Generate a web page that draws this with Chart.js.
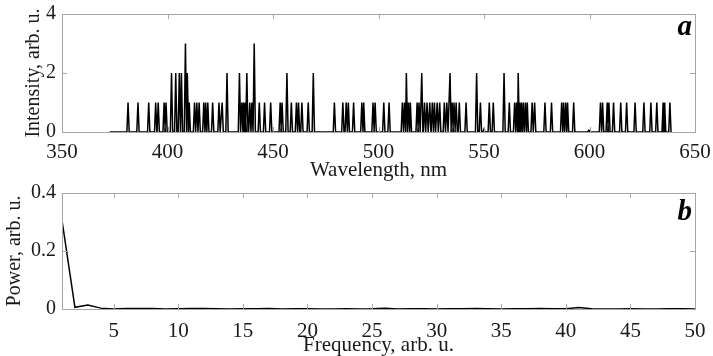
<!DOCTYPE html>
<html>
<head>
<meta charset="utf-8">
<script src="https://cdn.jsdelivr.net/npm/chart.js@4"></script>
<style>
  html, body { margin: 0; padding: 0; background: #fff; }
  #wrap { position: relative; width: 713px; height: 356px; overflow: hidden; }
  #cA { position: absolute; left: 0; top: 0; }
  #cB { position: absolute; left: 0; top: 182px; }
</style>
</head>
<body>
<div id="wrap">
  <canvas id="cA" width="713" height="182"></canvas>
  <canvas id="cB" width="713" height="174"></canvas>
</div>
<script>
// panel a: spectral lines (nm) and their intensity
const lineNm = [
  381.3, 386.0, 391.1, 394.4, 395.6, 398.4, 399.3, 401.9, 403.9, 405.6, 406.6, 408.5, 409.4, 410.3,
  412.8, 413.9, 415.0, 417.2, 418.1, 419.1, 421.4, 424.4, 425.9, 428.2, 434.1, 435.2, 436.0, 436.8,
  437.6, 439.0, 440.0, 441.1, 443.5, 446.0, 448.9, 453.4, 454.3, 456.6, 458.7, 461.1, 462.1, 463.7,
  466.7, 469.1, 479.1, 483.1, 484.7, 485.7, 488.2, 492.1, 493.0, 497.4, 498.4, 502.5, 505.0, 511.3,
  512.3, 513.2, 514.2, 515.1, 518.3, 519.2, 520.5, 521.8, 523.0, 524.3, 525.5, 526.5, 527.8, 529.0,
  531.2, 532.4, 533.9, 534.9, 535.8, 536.8, 538.3, 541.5, 546.5, 548.3, 550.0, 552.5, 554.4, 559.5,
  562.0, 564.5, 565.4, 566.2, 566.9, 567.7, 568.6, 569.6, 570.5, 572.8, 574.0, 578.9, 582.0, 586.8,
  587.7, 588.7, 589.6, 592.5, 599.7, 605.2, 606.2, 608.4, 609.2, 611.4, 614.8, 617.6, 621.6, 625.8,
  629.1, 631.9, 634.9, 635.6, 638.1
];
const lineInt = [
  1, 1, 1, 1, 1, 1, 1, 2, 2, 2, 2, 3, 2, 1,
  1, 1, 1, 1, 1, 1, 1, 1, 1, 2, 2, 1, 1, 1,
  2, 1, 1, 3, 1, 1, 1, 1, 1, 2, 1, 1, 1, 1,
  1, 2, 1, 1, 1, 1, 1, 1, 1, 1, 1, 1, 1, 1,
  1, 2, 1, 1, 1, 1, 2, 1, 1, 1, 1, 1, 1, 1,
  1, 1, 2, 1, 1, 1, 1, 1, 2, 1, 0.1, 1, 1, 2,
  1, 1, 1, 2, 1, 1, 1, 1, 1, 1, 1, 1, 1, 1,
  1, 1, 1, 1, 0.06, 1, 1, 1, 1, 1, 1, 1, 1, 1,
  1, 1, 1, 1, 1
];
const specStart = 372.6, specEnd = 638.6, lineHalfWidth = 0.55;

// panel b: power spectrum
const freq = [];
for (let f = 1; f <= 50; f++) freq.push(f);
const power = [
  0.306, 0.006, 0.014, 0.003, 0.000, 0.002, 0.002, 0.002, 0.000, 0.001,
  0.002, 0.002, 0.001, 0.000, 0.001, 0.001, 0.002, 0.000, 0.001, 0.001,
  0.000, 0.000, 0.001, 0.000, 0.001, 0.003, 0.000, 0.001, 0.001, 0.000,
  0.001, 0.001, 0.002, 0.001, 0.000, 0.001, 0.001, 0.002, 0.001, 0.001,
  0.005, 0.001, 0.000, 0.000, 0.001, 0.000, 0.000, 0.001, 0.001, 0.000
];

const xTicksA = [350, 400, 450, 500, 550, 600, 650];
const yTicksA = [0, 2, 4];
const xTicksB = [5, 10, 15, 20, 25, 30, 35, 40, 45, 50];
const yTicksB = [0, 0.2, 0.4];

// spectrum as a line trace: baseline with a narrow peak for each line
const specPts = [{ x: specStart, y: 0 }];
lineNm.forEach((w, i) => {
  specPts.push({ x: w - lineHalfWidth, y: 0 }, { x: w, y: lineInt[i] }, { x: w + lineHalfWidth, y: 0 });
});
specPts.push({ x: specEnd, y: 0 });

const FONT = 'Liberation Serif, Times New Roman, serif';
const INK = '#1a1a1a';
const FRAME = '#a6a6a6';

// box around the plot with inward ticks on all four sides, plus panel letter
const framePlugin = {
  id: 'frame',
  afterDraw(chart, args, opts) {
    const { ctx, chartArea: a, scales } = chart;
    const L = 5;
    ctx.save();
    ctx.strokeStyle = FRAME;
    ctx.lineWidth = 1;
    ctx.strokeRect(Math.round(a.left) + 0.5, Math.round(a.top) + 0.5,
      Math.round(a.right - a.left), Math.round(a.bottom - a.top));
    ctx.beginPath();
    scales.x.ticks.forEach(t => {
      const px = Math.round(scales.x.getPixelForValue(t.value)) + 0.5;
      ctx.moveTo(px, a.bottom); ctx.lineTo(px, a.bottom - L);
      ctx.moveTo(px, a.top); ctx.lineTo(px, a.top + L);
    });
    scales.y.ticks.forEach(t => {
      const py = Math.round(scales.y.getPixelForValue(t.value)) + 0.5;
      ctx.moveTo(a.left, py); ctx.lineTo(a.left + L, py);
      ctx.moveTo(a.right, py); ctx.lineTo(a.right - L, py);
    });
    ctx.stroke();
    ctx.fillStyle = '#000';
    ctx.font = 'bold italic 29px ' + FONT;
    ctx.textAlign = 'right';
    ctx.textBaseline = 'alphabetic';
    ctx.fillText(opts.letter, a.right - 3, a.top + opts.dy);
    ctx.restore();
  }
};

function makeOpts(cfg) {
  return {
    responsive: false,
    animation: false,
    layout: { padding: { left: 0, right: 18, top: cfg.padTop, bottom: 0 } },
    plugins: {
      legend: { display: false },
      tooltip: { enabled: false },
      frame: { letter: cfg.letter, dy: cfg.letterDy },
    },
    scales: {
      x: {
        type: 'linear', min: cfg.xMin, max: cfg.xMax,
        afterBuildTicks: s => { s.ticks = cfg.xTicks.map(v => ({ value: v })); },
        afterFit: s => { s.height = cfg.xH; s.paddingLeft = 0; s.paddingRight = 0; },
        grid: { display: false, drawTicks: false },
        border: { display: false },
        ticks: { color: INK, font: { family: FONT, size: 21 }, padding: cfg.xTickPad, maxRotation: 0, autoSkip: false },
        title: { display: true, text: cfg.xTitle, color: INK, font: { family: FONT, size: 21 }, padding: { top: 0, bottom: cfg.xTitlePad } },
      },
      y: {
        type: 'linear', min: cfg.yMin, max: cfg.yMax,
        afterBuildTicks: s => { s.ticks = cfg.yTicks.map(v => ({ value: v })); },
        afterFit: s => { s.width = 62; s.paddingTop = 0; s.paddingBottom = 0; },
        grid: { display: false, drawTicks: false },
        border: { display: false },
        ticks: { color: INK, font: { family: FONT, size: 20 }, padding: 6, callback: v => String(v) },
        title: { display: true, text: cfg.yTitle, color: INK, font: { family: FONT, size: 20 }, padding: { top: cfg.yTitlePad, bottom: 0 } },
      },
    },
  };
}

new Chart(document.getElementById('cA'), {
  type: 'line',
  data: {
    datasets: [{
      data: specPts,
      borderColor: '#000', borderWidth: 1.5, pointRadius: 0, tension: 0,
    }],
  },
  options: makeOpts({
    padTop: 14, letter: 'a', letterDy: 21,
    xMin: 350, xMax: 650, xTicks: xTicksA, xH: 50, xTickPad: 8, xTitle: 'Wavelength, nm', xTitlePad: -1,
    yMin: 0, yMax: 4, yTicks: yTicksA, yTitle: 'Intensity, arb. u.', yTitlePad: 22,
  }),
  plugins: [framePlugin],
});

new Chart(document.getElementById('cB'), {
  type: 'line',
  data: {
    datasets: [{
      data: freq.map((f, i) => ({ x: f, y: power[i] })),
      borderColor: '#000', borderWidth: 1.5, pointRadius: 0, tension: 0,
    }],
  },
  options: makeOpts({
    padTop: 11, letter: 'b', letterDy: 27,
    xMin: 1, xMax: 50, xTicks: xTicksB, xH: 47, xTickPad: 10, xTitle: 'Frequency, arb. u.', xTitlePad: -2,
    yMin: 0, yMax: 0.4, yTicks: yTicksB, yTitle: 'Power, arb. u.', yTitlePad: 3,
  }),
  plugins: [framePlugin],
});
</script>
</body>
</html>
